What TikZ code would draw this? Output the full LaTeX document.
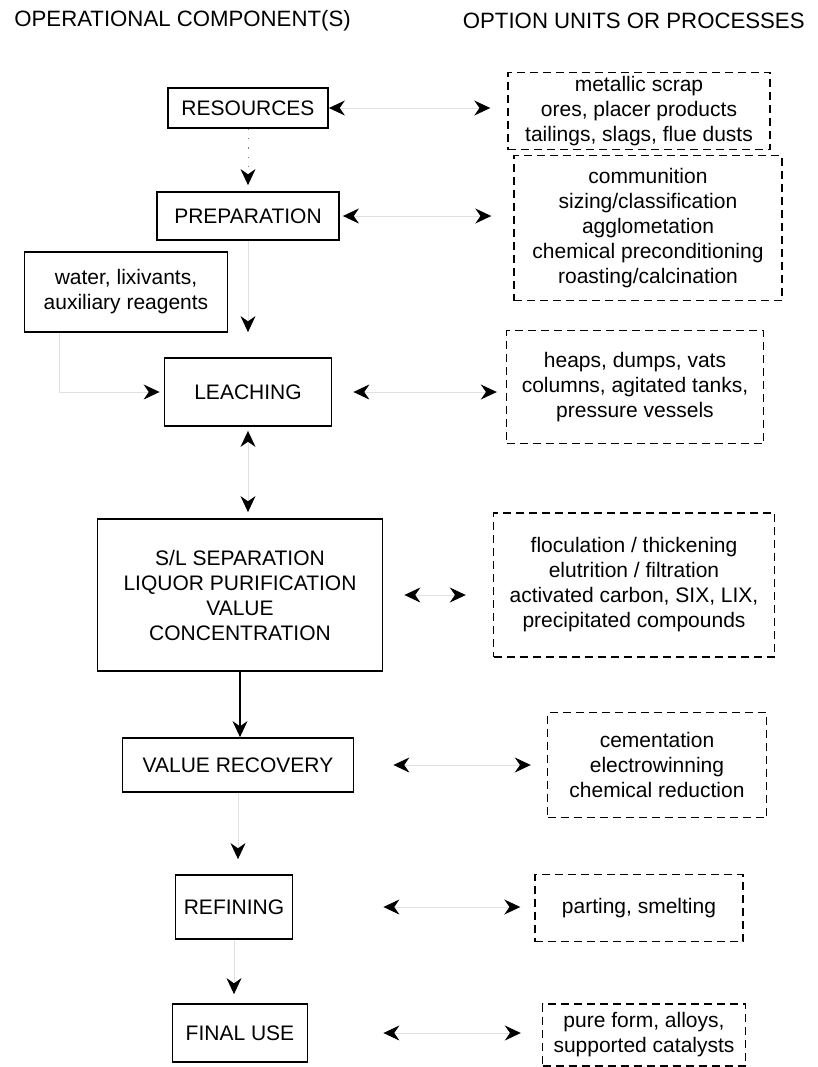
\documentclass[tikz,border=0pt]{standalone}
\usepackage{fontspec}
\setmainfont{Liberation Sans}
\usetikzlibrary{arrows.meta}
\newcommand{\boxfont}{\fontsize{10.5}{12.5}\selectfont}
\newcommand{\headfont}{\fontsize{11.1}{13}\selectfont}

\begin{document}
\begin{tikzpicture}[x=0.5pt,y=-0.5pt,>={Stealth[length=8pt,width=7.5pt,inset=2.6pt,color=black]}]
	\tikzset{stage/.style={draw=black,line width=0.9pt,align=center,inner sep=2pt,font=\boxfont}}
	\tikzset{option/.style={draw=black,line width=0.7pt,dash pattern=on 4pt off 2.5pt,align=center,inner sep=2pt,font=\boxfont}}
	\tikzset{faint/.style={draw=black!12,line width=0.5pt}}
	\tikzset{flow/.style={draw=black,line width=0.6pt}}
	
	% Column of the stages
	\def\colx{248}
	
	% Fix the page size
	\useasboundingbox (0,0) rectangle (818,1067);
	
	% Headings
	\node[anchor=west,font=\headfont,inner sep=0pt] (headleft) at (14,21) {OPERATIONAL COMPONENT(S)};
	\node[anchor=east,font=\headfont,inner sep=0pt] (headright) at (805,21) {OPTION UNITS OR PROCESSES};
	
	% Operational components
	\node[stage,minimum width=80pt,minimum height=20pt] (res) at (\colx,108) {RESOURCES};
	\node[stage,minimum width=91pt,minimum height=24pt] (prep) at (\colx,216) {PREPARATION};
	\node[stage,minimum width=101.5pt,minimum height=40pt] (water) at (126,292) {water, lixivants,\\auxiliary reagents};
	\node[stage,minimum width=83.5pt,minimum height=34pt] (leach) at (\colx,392) {LEACHING};
	\node[stage,minimum width=142.5pt,minimum height=76pt] (sl) at (240,595) {S/L SEPARATION\\LIQUOR PURIFICATION\\VALUE\\CONCENTRATION};
	\node[stage,minimum width=115.5pt,minimum height=27pt] (vr) at (238,765) {VALUE RECOVERY};
	\node[stage,minimum width=58.5pt,minimum height=32pt] (ref) at (234,907) {REFINING};
	\node[stage,minimum width=67.5pt,minimum height=29pt] (fin) at (240,1033) {FINAL USE};
	
	% Option units or processes
	\node[option,minimum width=131pt,minimum height=38pt] (opt1) at (639,111) {metallic scrap\\ores, placer products\\tailings, slags, flue dusts};
	\node[option,minimum width=134pt,minimum height=72.5pt] (opt2) at (648,228) {communition\\sizing/classification\\agglometation\\chemical preconditioning\\roasting/calcination};
	\node[option,minimum width=128.5pt,minimum height=56.5pt] (opt3) at (635,387) {heaps, dumps, vats\\columns, agitated tanks,\\pressure vessels};
	\node[option,minimum width=140.5pt,minimum height=72pt] (opt4) at (634,585) {floculation / thickening\\elutrition / filtration\\activated carbon, SIX, LIX,\\precipitated compounds};
	\node[option,minimum width=109.5pt,minimum height=52.5pt] (opt5) at (657,765) {cementation\\electrowinning\\chemical reduction};
	\node[option,minimum width=104pt,minimum height=33.5pt] (opt6) at (639,908) {parting, smelting};
	\node[option,minimum width=101.5pt,minimum height=31pt] (opt7) at (644,1035) {pure form, alloys,\\supported catalysts};
	
	% Main flow down the stages
	\draw[->,draw=black!50,line width=0.5pt,dash pattern=on 0.6pt off 4pt,shorten >=3pt] (res) -- (prep);
	\draw[faint,->,shorten >=12.5pt] (prep) -- (leach);
	\draw[faint,->,shorten >=2pt] ([xshift=18pt]water.south west) |- (leach.west);
	\draw[faint,<->,shorten <=2pt,shorten >=3pt] (leach.south) -- (leach.south |- sl.north);
	\draw[flow,->] (sl.south) -- (sl.south |- vr.north);
	\draw[faint,->,shorten >=7.5pt] (vr.south) -- (vr.south |- ref.north);
	\draw[faint,->,shorten >=4.5pt] (ref.south) -- (ref.south |- fin.north);
	
	% Links between each stage and its options
	\draw[faint,<->,shorten >=8.5pt] (res.east) -- (res.east -| opt1.west);
	\draw[faint,<->,shorten <=1.5pt,shorten >=11pt] (prep.east) -- (prep.east -| opt2.west);
	\draw[faint,<->,shorten <=10.5pt,shorten >=4.5pt] (leach.east) -- (leach.east -| opt3.west);
	\draw[faint,<->,shorten <=10.5pt,shorten >=13.5pt] (sl.east) -- (sl.east -| opt4.west);
	\draw[faint,<->,shorten <=19.5pt,shorten >=8pt] (vr.east) -- (vr.east -| opt5.west);
	\draw[faint,<->,shorten <=45pt,shorten >=7pt] (ref.east) -- (ref.east -| opt6.west);
	\draw[faint,<->,shorten <=37.5pt,shorten >=10.5pt] (fin.east) -- (fin.east -| opt7.west);
	
\end{tikzpicture}
\end{document}
